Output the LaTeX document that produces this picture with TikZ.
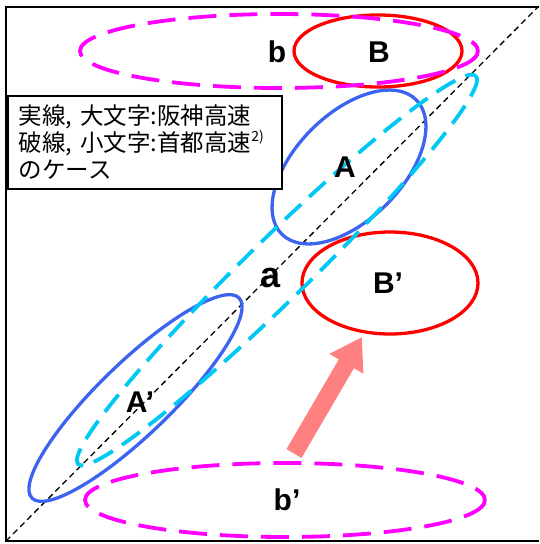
\documentclass[tikz,border=0pt]{standalone}
\usepackage{fontspec}
\setmainfont{Liberation Sans}
\newfontfamily\jpfont{Noto Sans CJK JP}
\usepackage{tikz}
\usetikzlibrary{arrows.meta, positioning}
\definecolor{ellblue}{RGB}{60,100,240}
\definecolor{ellcyan}{RGB}{0,200,245}
\definecolor{ellmag}{RGB}{255,0,255}
\definecolor{arrpink}{RGB}{255,128,128}
\tikzset{
    frame/.style={
        draw=black, line width=2pt,
    },
    diag/.style={
        draw=black, line width=1.3pt, dash pattern=on 6pt off 4pt,
    },
    solidblue/.style={
        draw=ellblue, line width=3.3pt,
    },
    solidred/.style={
        draw=red, line width=3.3pt,
    },
    dashcyan/.style={
        draw=ellcyan, line width=3.8pt, dash pattern=on 22pt off 11pt,
    },
    dashmag/.style={
        draw=ellmag, line width=3.8pt, dash pattern=on 28pt off 13pt,
    },
    lbl/.style={
        font=\fontsize{30}{30}\selectfont\bfseries, inner sep=0pt,
    },
    notebox/.style={
        rectangle, draw=black, fill=white, line width=2pt,
        minimum width=274pt, minimum height=93pt,
        text width=252pt, align=left, inner xsep=11pt,
        font=\jpfont\fontsize{23.5}{27}\selectfont,
    },
    bigarr/.style={
        -{Triangle[length=31pt, width=37pt]}, line width=17.5pt, color=arrpink,
    },
}
\newcommand{\notesup}[1]{\raisebox{0.42em}{\fontsize{14}{14}\selectfont #1}}
\begin{document}
\begin{tikzpicture}[x=1pt, y=-1pt]
    \useasboundingbox (0,0) rectangle (539,544);

    % ── Frame and diagonal ──
    \draw[frame] (539,7) -- (6,7) -- (6,541) -- (539,541);
    \draw[diag] (6,541) -- (538,7);

    % ── Solid ellipses (upper-case) ──
    \draw[solidblue, rotate around={45:(349,167)}] (349,167) ellipse [x radius=95, y radius=53];
    \draw[solidblue, rotate around={44:(135.5,398)}] (135.5,398) ellipse [x radius=144, y radius=36];
    \draw[solidred] (378,51) ellipse [x radius=84, y radius=36];
    \draw[solidred] (390,283) ellipse [x radius=88, y radius=51];

    % ── Dashed ellipses (lower-case) ──
    \draw[dashcyan, rotate around={44.3:(277,270)}] (277,270) ellipse [x radius=278, y radius=31];
    \draw[dashmag] (279,51) ellipse [x radius=199, y radius=37];
    \draw[dashmag] (285,500) ellipse [x radius=200, y radius=37];

    % ── Labels ──
    \node[lbl] (bigA)  at (345,167) {A};
    \node[lbl] (bigAp) at (140,402) {A’};
    \node[lbl] (bigB)  at (379,52)  {B};
    \node[lbl] (bigBp) at (388,283) {B’};
    \node[lbl, font=\fontsize{36}{36}\selectfont\bfseries] (smla) at (271,278) {a};
    \node[lbl] (smlb)  at (277,52)  {b};
    \node[lbl] (smlbp) at (287,500) {b’};

    % ── Legend ──
    \node[notebox] (note) at (145,142)
        {実線, 大文字:阪神高速\\破線, 小文字:首都高速\notesup{2)}\\のケース};

    % ── Shift arrow ──
    \coordinate (shiftfrom) at (294,453.5);
    \coordinate (shiftto)   at (362,337);
    \draw[bigarr] (shiftfrom) -- (shiftto);

\end{tikzpicture}
\end{document}
